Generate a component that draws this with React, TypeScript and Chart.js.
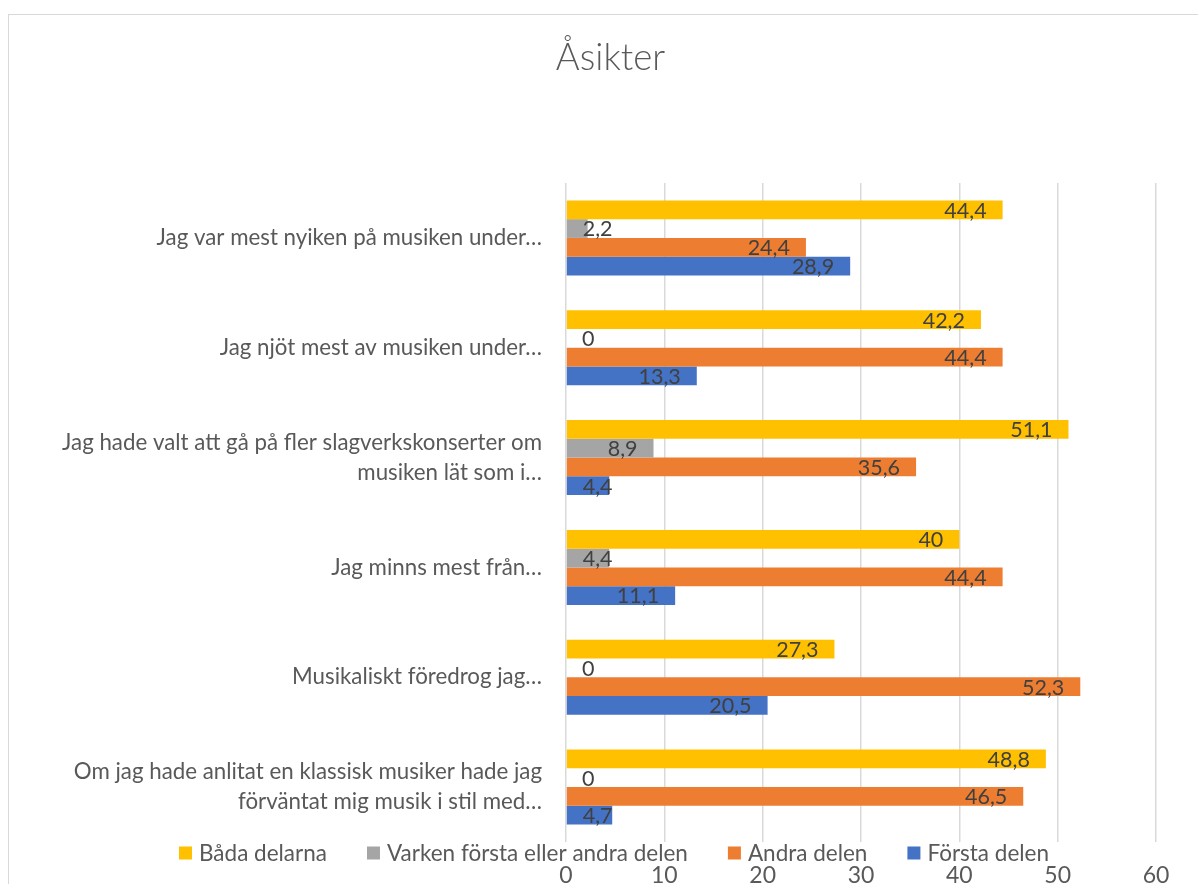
import React, { useEffect, useRef } from "react";
import { Chart, registerables } from "chart.js";

Chart.register(...registerables);

const chartTitle = "Åsikter";

const categories: (string | string[])[] = [
  "Jag var mest nyiken på musiken under…",
  "Jag njöt mest av musiken under…",
  ["Jag hade valt att gå på fler slagverkskonserter om", "musiken lät som i…"],
  "Jag minns mest från…",
  "Musikaliskt föredrog jag…",
  ["Om jag hade anlitat en klassisk musiker hade jag", "förväntat mig musik i stil med…"],
];

const seriesNames = ["Båda delarna", "Varken första eller andra delen", "Andra delen", "Första delen"];
const bada = [44.4, 42.2, 51.1, 40, 27.3, 48.8];
const varken = [2.2, 0, 8.9, 4.4, 0, 0];
const andra = [24.4, 44.4, 35.6, 44.4, 52.3, 46.5];
const forsta = [28.9, 13.3, 4.4, 11.1, 20.5, 4.7];
const seriesColors = ["#FFC000", "#A5A5A5", "#ED7D31", "#4472C4"];
const xTicks = [0, 10, 20, 30, 40, 50, 60];

const FONT = "Lato, 'Open Sans', sans-serif";

const fmt = (v: number) => String(v).replace(".", ",");

const borderPlugin = {
  id: "frameBorder",
  beforeDraw(chart: any) {
    const ctx = chart.ctx;
    ctx.save();
    ctx.fillStyle = "#ffffff";
    ctx.fillRect(0, 0, chart.width, chart.height);
    ctx.strokeStyle = "#D9D9D9";
    ctx.lineWidth = 1;
    ctx.strokeRect(8.5, 14.5, chart.width + 50, chart.height + 50);
    ctx.restore();
  },
};

const titlePlugin = {
  id: "customTitle",
  afterDraw(chart: any) {
    const ctx = chart.ctx;
    ctx.save();
    ctx.font = `300 36.5px ${FONT}`;
    ctx.fillStyle = "#595959";
    ctx.textAlign = "center";
    ctx.textBaseline = "middle";
    ctx.fillText(chartTitle, 610.5, 58);
    ctx.restore();
  },
};

const dataLabelPlugin = {
  id: "dataLabels",
  afterDatasetsDraw(chart: any) {
    const ctx = chart.ctx;
    ctx.save();
    ctx.font = `21.5px ${FONT}`;
    ctx.fillStyle = "#404040";
    ctx.textAlign = "left";
    ctx.textBaseline = "middle";
    chart.data.datasets.forEach((ds: any, di: number) => {
      const meta = chart.getDatasetMeta(di);
      meta.data.forEach((bar: any, i: number) => {
        const txt = fmt(ds.data[i]);
        const w = ctx.measureText(txt).width;
        const base = bar.base;
        const end = bar.x;
        const x = Math.max(end - 16 - w, base + 16);
        ctx.fillText(txt, x, bar.y + 1);
      });
    });
    ctx.restore();
  },
};

const legendPlugin = {
  id: "customLegend",
  afterDraw(chart: any) {
    const ctx = chart.ctx;
    ctx.save();
    ctx.font = `22.5px ${FONT}`;
    ctx.textBaseline = "middle";
    ctx.textAlign = "left";
    const box = 13;
    const gapBoxText = 7;
    const gapItems = 40;
    const items = chart.data.datasets.map((ds: any) => ({
      label: ds.label,
      color: ds.backgroundColor,
      w: ctx.measureText(ds.label).width,
    }));
    const total = items.reduce((s: number, it: any) => s + box + gapBoxText + it.w, 0) + gapItems * (items.length - 1);
    let x = 614 - total / 2;
    const y = 853;
    items.forEach((it: any) => {
      ctx.fillStyle = it.color;
      ctx.fillRect(x, y - box / 2, box, box);
      x += box + gapBoxText;
      ctx.fillStyle = "#595959";
      ctx.fillText(it.label, x, y + 1);
      x += it.w + gapItems;
    });
    ctx.restore();
  },
};

export default function App() {
  const ref = useRef<HTMLCanvasElement | null>(null);
  useEffect(() => {
    document.body.style.margin = "0";
    if (!ref.current) return;
    const values = [bada, varken, andra, forsta];
    const chart = new Chart(ref.current, {
      type: "bar",
      data: {
        labels: categories,
        datasets: seriesNames.map((name, i) => ({
          label: name,
          data: values[i],
          backgroundColor: seriesColors[i],
          borderWidth: 0,
          categoryPercentage: 0.683,
          barPercentage: 1,
        })),
      },
      options: {
        indexAxis: "y",
        animation: false,
        responsive: false,
        maintainAspectRatio: false,
        layout: { padding: { left: 0, right: 42, top: 183, bottom: 0 } },
        plugins: {
          legend: { display: false },
          tooltip: { enabled: false },
          title: { display: false },
        },
        scales: {
          x: {
            min: 0,
            max: 60,
            afterBuildTicks: (scale: any) => {
              scale.ticks = xTicks.map((v) => ({ value: v }));
            },
            afterFit: (scale: any) => {
              scale.height = 42;
            },
            grid: { color: "#D9D9D9", lineWidth: 1.5, drawTicks: false },
            border: { display: false },
            ticks: {
              color: "#595959",
              font: { family: FONT, size: 23 },
              padding: 20,
            },
          },
          y: {
            afterFit: (scale: any) => {
              scale.width = 566;
            },
            grid: { display: false, drawTicks: false },
            border: { display: false },
            ticks: {
              color: "#595959",
              font: { family: FONT, size: 22.3, lineHeight: 1.34 },
              padding: 24,
            },
          },
        },
      },
      plugins: [borderPlugin, dataLabelPlugin, legendPlugin, titlePlugin],
    });
    return () => chart.destroy();
  }, []);
  return <canvas ref={ref} width={1198} height={884} style={{ display: "block", width: 1198, height: 884 }} />;
}
